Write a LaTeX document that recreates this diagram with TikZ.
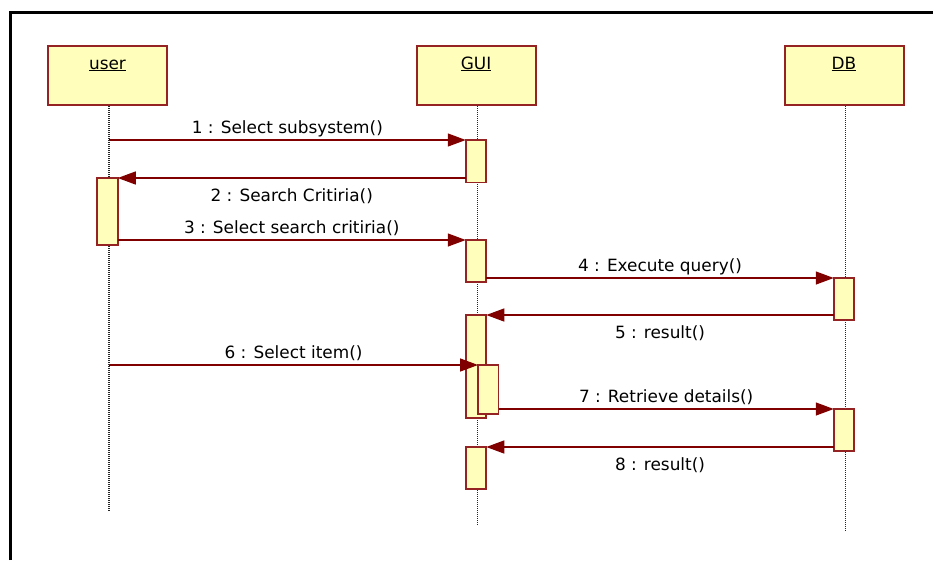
\documentclass[tikz,border=0pt]{standalone}
\usepackage{fontspec}
\setmainfont{DejaVu Sans}
\usetikzlibrary{calc,arrows.meta}

\definecolor{boxred}{RGB}{150,35,35}
\definecolor{msgred}{RGB}{128,0,0}
\definecolor{boxfill}{RGB}{255,255,187}
\newcommand{\underlbl}[1]{\setbox0\hbox{#1}\rlap{\rule[-2.2pt]{\wd0}{1.2pt}}\box0}

\begin{document}
\begin{tikzpicture}[x=1pt,y=-1pt,
  every node/.style={font=\fontsize{16.9}{20}\selectfont},
  head/.style={draw=boxred,fill=boxfill,line width=2pt,minimum width=119pt,minimum height=59pt,inner sep=0pt},
  act/.style={draw=boxred,fill=boxfill,line width=1.8pt,minimum width=20.5pt,inner sep=0pt,outer sep=0pt,anchor=north},
  msg/.style={draw=msgred,line width=1.3pt,-{Triangle[length=18pt,width=13pt]}},
  up/.style={midway,anchor=base,yshift=6.7pt},
  down/.style={midway,anchor=base,yshift=-23.4pt},
  life/.style={dash pattern=on 1pt off 1pt,line width=1.1pt,black!85}]
  \useasboundingbox (0,0) rectangle (933,560);

  %% Frame
  \draw[line width=3pt] (10,560) -- (10,12.5) -- (933,12.5);

  %% Object boxes and their lifelines
  \foreach \n/\x/\e in {user/107.5/512,GUI/476/525,DB/844/532}
  {
    \node[head] (\n) at (\x,75.5) {};
    \node[anchor=base] (\n-lbl) at (\x,69) {\underlbl{\n}};
    \coordinate (\n-end) at (\x+1.5,\e);
    \draw[life] (\n.south -| \n-end) -- (\n-end);
  }

  %% Activation boxes
  \node[act,minimum height=42.5pt] (GUI-a1) at (476,140) {};
  \node[act,minimum height=67pt]   (user-a1) at (107.5,178) {};
  \node[act,minimum height=42pt]   (GUI-a2) at (476,240) {};
  \node[act,minimum height=42pt]   (DB-a1) at (844,278) {};
  \node[act,minimum height=103pt]  (GUI-a3) at (476,315) {};
  \node[act,minimum height=49pt]   (GUI-a4) at (488.3,365) {};
  \node[act,minimum height=42pt]   (DB-a2) at (844,409) {};
  \node[act,minimum height=42pt]   (GUI-a5) at (476,447) {};

  %% Messages
  \draw[msg] (user-end |- GUI-a1.north) -- (GUI-a1.north west)
    node[up] (m1) {1 : Select subsystem()};
  \draw[msg] (GUI-a1.west |- user-a1.north) -- (user-a1.north east)
    node[down] (m2) {2 : Search Critiria()};
  \draw[msg] (user-a1.east |- GUI-a2.north) -- (GUI-a2.north west)
    node[up] (m3) {3 : Select search critiria()};
  \draw[msg] (GUI-a2.east |- DB-a1.north) -- (DB-a1.north west)
    node[up] (m4) {4 : Execute query()};
  \draw[msg] (DB-a1.west |- GUI-a3.north) -- (GUI-a3.north east)
    node[down] (m5) {5 : result()};
  \draw[msg] (user-end |- GUI-a4.north) -- (GUI-a4.north west)
    node[up] (m6) {6 : Select item()};
  \draw[msg] (GUI-a4.east |- DB-a2.north) -- (DB-a2.north west)
    node[up] (m7) {7 : Retrieve details()};
  \draw[msg] (DB-a2.west |- GUI-a5.north) -- (GUI-a5.north east)
    node[down] (m8) {8 : result()};
\end{tikzpicture}
\end{document}
